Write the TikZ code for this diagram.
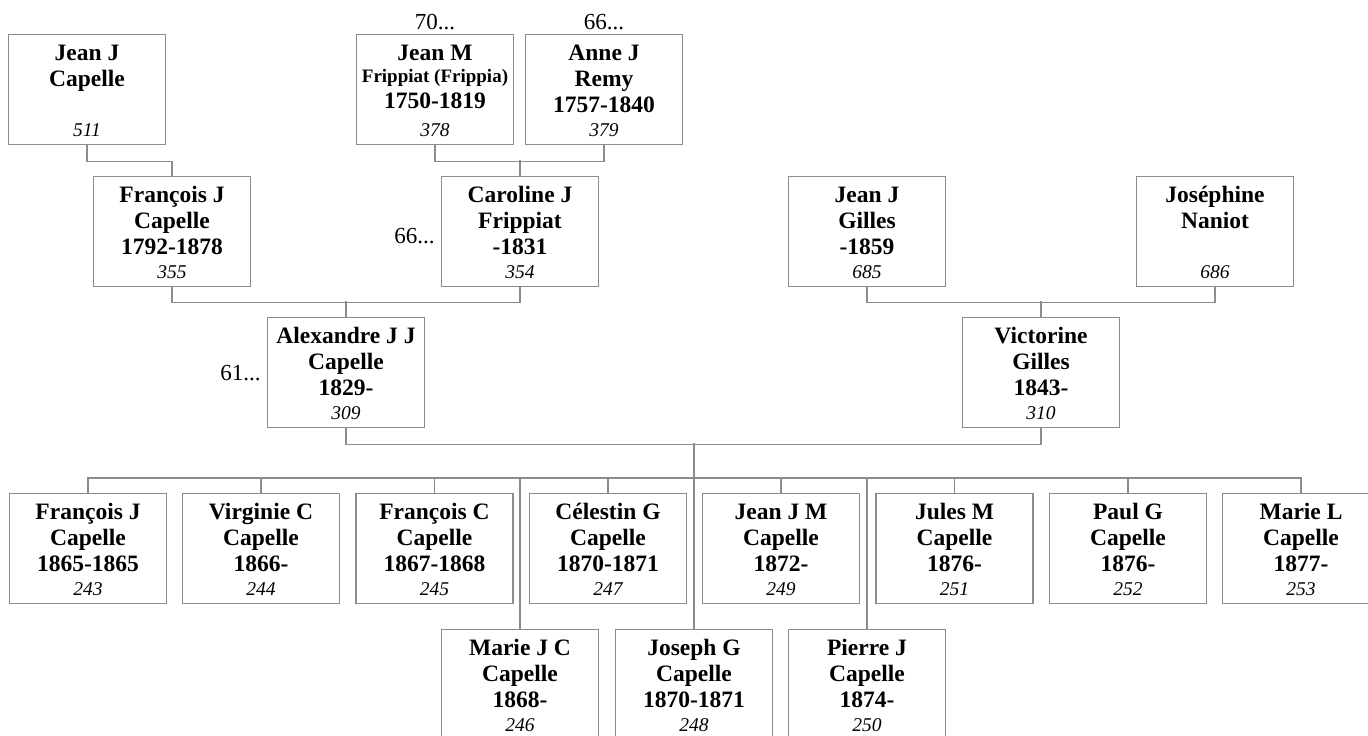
\documentclass[tikz,border=0pt]{standalone}
\usepackage{fontspec}
\setmainfont{Liberation Serif}
\usetikzlibrary{positioning}
\definecolor{boxgrey}{RGB}{140,140,140}
\newcommand{\namefont}{\fontsize{23.5}{26}\selectfont\bfseries}
\newcommand{\smallname}{\fontsize{19}{21}\selectfont\bfseries}
\newcommand{\numfont}{\fontsize{19.5}{22}\selectfont\mdseries\itshape}
\newcommand{\card}[2]{\parbox[t][110pt][t]{157pt}{\lineskiplimit=-50pt\lineskip=0pt\centering\namefont\rule{0pt}{26pt}#1\par\vfill\numfont #2\par\vspace{8.4pt}}}
\begin{document}
\begin{tikzpicture}[x=1pt, y=-1pt,
  person/.style={draw=boxgrey, line width=1.3pt, inner sep=0pt, anchor=north},
  link/.style={draw=boxgrey, line width=1.2pt},
  side/.style={inner sep=0pt, font=\fontsize{23}{26}\selectfont}]
\useasboundingbox (0,0) rectangle (1368,736);
\clip (0,0) rectangle (1368,736);
\node[person] (jeanjc) at (87,34) {\card{Jean J\\Capelle}{511}};
\node[person] (jeanm) at (435,34) {\card{Jean M\\[-4pt]{\smallname Frippiat (Frippia)}\\1750-1819}{378}};
\node[person] (annej) at (604,34) {\card{Anne J\\Remy\\1757-1840}{379}};
\node[person] (francoisj) at (172,176) {\card{François J\\Capelle\\1792-1878}{355}};
\node[person] (caroline) at (520,176) {\card{Caroline J\\Frippiat\\-1831}{354}};
\node[person] (jeanjg) at (867,176) {\card{Jean J\\Gilles\\-1859}{685}};
\node[person] (josephine) at (1215,176) {\card{Joséphine\\Naniot}{686}};
\node[person] (alexandre) at (346,317) {\card{Alexandre J J\\Capelle\\1829-}{309}};
\node[person] (victorine) at (1041,317) {\card{Victorine\\Gilles\\1843-}{310}};
\node[person] (francoisjc) at (88,493) {\card{François J\\Capelle\\1865-1865}{243}};
\node[person] (virginie) at (261,493) {\card{Virginie C\\Capelle\\1866-}{244}};
\node[person] (francoisc) at (434.5,493) {\card{François C\\Capelle\\1867-1868}{245}};
\node[person] (celestin) at (608,493) {\card{Célestin G\\Capelle\\1870-1871}{247}};
\node[person] (jeanjm) at (781,493) {\card{Jean J M\\Capelle\\1872-}{249}};
\node[person] (jules) at (954.5,493) {\card{Jules M\\Capelle\\1876-}{251}};
\node[person] (paul) at (1128,493) {\card{Paul G\\Capelle\\1876-}{252}};
\node[person] (mariel) at (1301,493) {\card{Marie L\\Capelle\\1877-}{253}};
\node[person] (mariejc) at (520,629) {\card{Marie J C\\Capelle\\1868-}{246}};
\node[person] (joseph) at (694,629) {\card{Joseph G\\Capelle\\1870-1871}{248}};
\node[person] (pierre) at (867,629) {\card{Pierre J\\Capelle\\1874-}{250}};
\node[side, above=4pt of jeanm] (jeanmrel) {70...};
\node[side, above=4pt of annej] (annejrel) {66...};
\node[side, left=6pt of caroline, yshift=-4pt] (carolinerel) {66...};
\node[side, left=6pt of alexandre] (alexandrerel) {61...};
\draw[link] (jeanjc.south) -- ++(0,16) -| (francoisj.north);
\draw[link] (jeanm.south) -- ++(0,16) -| (annej.south);
\draw[link] (caroline.north) -- ++(0,-16);
\draw[link] (francoisj.south) -- ++(0,15) -| (caroline.south);
\draw[link] (alexandre.north) -- ++(0,-16);
\draw[link] (jeanjg.south) -- ++(0,15) -| (josephine.south);
\draw[link] (victorine.north) -- ++(0,-16);
\draw[link] (alexandre.south) -- ++(0,16) -| (victorine.south);
\draw[link] (joseph.north) -- ++(0,-186);
\draw[link] (francoisjc.north) -- ++(0,-15) -| (mariel.north);
\foreach \kid in {virginie,francoisc,celestin,jeanjm,jules,paul}
  \draw[link] (\kid.north) -- ++(0,-15);
\draw[link] (mariejc.north) -- ++(0,-151);
\draw[link] (pierre.north) -- ++(0,-151);
\end{tikzpicture}
\end{document}
